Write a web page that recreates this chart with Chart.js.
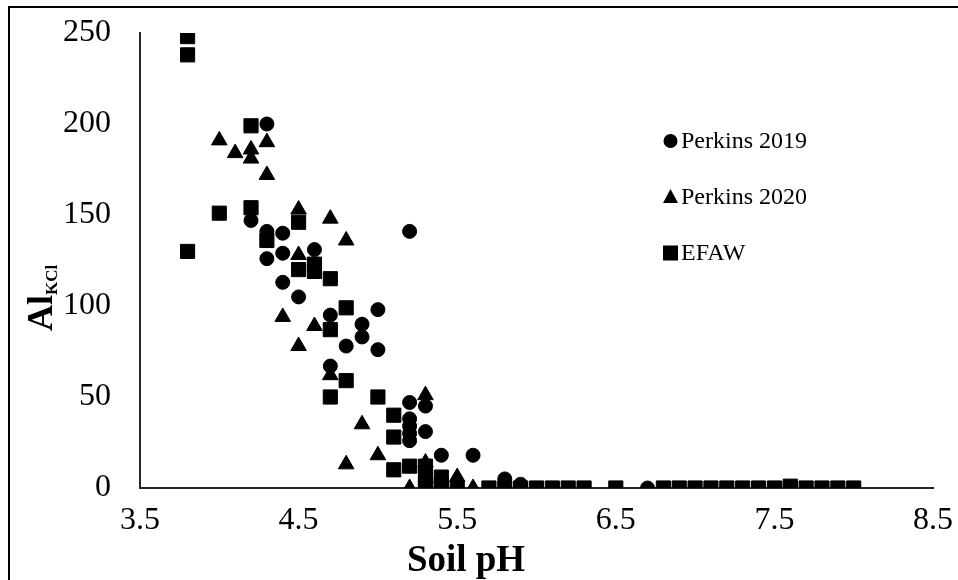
<!DOCTYPE html>
<html>
<head>
<meta charset="utf-8">
<style>
  html, body { margin: 0; padding: 0; background: #ffffff; }
  #wrap { width: 958px; height: 580px; position: relative; }
  canvas { display: block; }
</style>
<script src="https://cdn.jsdelivr.net/npm/chart.js@4/dist/chart.umd.min.js"></script>
</head>
<body>
<div id="wrap"><canvas id="c" width="958" height="580"></canvas></div>
<script>
// Axis tick values
const xTicks = [3.5, 4.5, 5.5, 6.5, 7.5, 8.5];
const yTicks = [0, 50, 100, 150, 200, 250];

// Series names
const seriesNames = ['Perkins 2019', 'Perkins 2020', 'EFAW'];

// Perkins 2019: soil pH and KCl-extractable Al
const ph2019 = [4.3, 4.2, 4.3, 4.4, 4.3, 4.4, 4.4, 4.5, 4.6, 4.7, 4.7, 4.8, 4.9, 4.9, 5.0, 5.0,
                5.2, 5.2, 5.2, 5.2, 5.2, 5.2, 5.3, 5.3, 5.4, 5.6, 5.8, 5.9, 6.7];
const al2019 = [200, 147, 141, 140, 126, 129, 113, 105, 131, 95, 67, 78, 90, 83, 98, 76,
                141, 47, 38, 34, 30, 26, 45, 31, 18, 18, 5, 2, 0];

// Perkins 2020
const ph2020 = [4.0, 4.1, 4.2, 4.2, 4.3, 4.3, 4.5, 4.7, 4.8, 4.5, 4.4, 4.6, 4.5, 4.7, 4.9,
                5.3, 5.0, 4.8, 5.3, 5.5, 5.2, 5.6];
const al2020 = [191, 184, 186, 181, 190, 172, 153, 148, 136, 128, 94, 89, 78, 62, 35,
                51, 18, 13, 14, 6, 0, 0];

// EFAW
const phEFAW = [3.8, 3.8, 3.8, 4.0, 4.2, 4.2, 4.3, 4.5, 4.5, 4.6, 4.6, 4.7, 4.7, 4.7, 4.8, 4.8,
                5.0, 5.1, 5.1, 5.1, 5.2, 5.3, 5.3, 5.3, 5.3, 5.4, 5.4, 5.4, 5.5, 5.7, 5.8, 5.9,
                6.0, 6.1, 6.2, 6.3, 6.5, 6.8, 6.9, 7.0, 7.1, 7.2, 7.3, 7.4, 7.5, 7.6, 7.6, 7.7,
                7.8, 7.9, 8.0];
const alEFAW = [248, 238, 130, 151, 199, 154, 136, 146, 120, 123, 119, 115, 87, 50, 99, 59,
                50, 40, 28, 10, 12, 12, 7, 3, 0, 6, 2, 0, 0, 0, 0, 0,
                0, 0, 0, 0, 0, 0, 0, 0, 0, 0, 0, 0, 0, 0, 1, 0,
                0, 0, 0];

const pts = (xs, ys) => xs.map((x, i) => ({ x: x, y: ys[i] }));

const FONT = '"Liberation Serif", "Times New Roman", serif';

// Outer frame, axis titles and the in-plot legend
const decorations = {
  id: 'decorations',
  beforeDraw(chart) {
    const ctx = chart.ctx;
    ctx.save();
    ctx.fillStyle = '#ffffff';
    ctx.fillRect(0, 0, chart.width, chart.height);
    ctx.strokeStyle = '#000000';
    ctx.lineWidth = 2;
    ctx.beginPath();
    ctx.moveTo(9, chart.height + 2);
    ctx.lineTo(9, 7);
    ctx.lineTo(chart.width + 2, 7);
    ctx.stroke();
    ctx.restore();
  },
  afterDraw(chart) {
    const ctx = chart.ctx;
    ctx.save();
    ctx.fillStyle = '#000000';

    // x-axis title
    ctx.font = 'bold 37px ' + FONT;
    ctx.textAlign = 'center';
    ctx.textBaseline = 'alphabetic';
    ctx.fillText('Soil pH', 466, 571);

    // y-axis title with subscript
    ctx.translate(52, 331);
    ctx.rotate(-Math.PI / 2);
    ctx.textAlign = 'left';
    ctx.font = 'bold 36px ' + FONT;
    ctx.fillText('Al', 0, 0);
    const w = ctx.measureText('Al').width;
    ctx.font = 'bold 17px ' + FONT;
    ctx.fillText('KCl', w, 5);
    ctx.restore();

    // legend
    ctx.save();
    const rows = [141, 197, 253];
    const mx = 670.5;
    ctx.font = '24px ' + FONT;
    ctx.textAlign = 'left';
    ctx.textBaseline = 'middle';
    chart.data.datasets.forEach((ds, i) => {
      const y = rows[i];
      ctx.fillStyle = '#000000';
      ctx.beginPath();
      if (ds.pointStyle === 'circle') {
        ctx.arc(mx, y, 7, 0, Math.PI * 2);
      } else if (ds.pointStyle === 'triangle') {
        ctx.moveTo(mx, y - 8);
        ctx.lineTo(mx + 7.5, y + 6);
        ctx.lineTo(mx - 7.5, y + 6);
        ctx.closePath();
      } else {
        ctx.rect(mx - 7.5, y - 7.5, 15, 15);
      }
      ctx.fill();
      ctx.fillText(ds.label, 681, y + 1);
    });
    ctx.restore();
  }
};

new Chart(document.getElementById('c'), {
  type: 'scatter',
  data: {
    datasets: [
      {
        label: seriesNames[0],
        data: pts(ph2019, al2019),
        pointStyle: 'circle',
        pointRadius: 7,
        borderWidth: 1,
        backgroundColor: '#000000',
        borderColor: '#000000',
        order: 3
      },
      {
        label: seriesNames[1],
        data: pts(ph2020, al2020),
        pointStyle: 'triangle',
        pointRadius: 9,
        borderWidth: 1,
        backgroundColor: '#000000',
        borderColor: '#000000',
        order: 2
      },
      {
        label: seriesNames[2],
        data: pts(phEFAW, alEFAW),
        pointStyle: 'rect',
        pointRadius: 10,
        borderWidth: 1,
        backgroundColor: '#000000',
        borderColor: '#000000',
        order: 1
      }
    ]
  },
  options: {
    responsive: false,
    devicePixelRatio: 1,
    animation: false,
    layout: { padding: { left: 0, right: 25, top: 33, bottom: 0 } },
    plugins: {
      legend: { display: false },
      tooltip: { enabled: false }
    },
    scales: {
      x: {
        type: 'linear',
        min: 3.5,
        max: 8.5,
        afterBuildTicks(scale) { scale.ticks = xTicks.map(v => ({ value: v })); },
        afterFit(scale) {
          scale.height = 92;
          scale.paddingLeft = 0;
          scale.paddingRight = 0;
        },
        grid: { display: false, drawTicks: false },
        border: { display: true, color: '#262626', width: 2 },
        ticks: {
          color: '#000000',
          padding: 13,
          maxRotation: 0,
          font: { family: FONT, size: 32 },
          callback: v => Number(v).toFixed(1)
        }
      },
      y: {
        type: 'linear',
        min: 0,
        max: 250,
        afterBuildTicks(scale) { scale.ticks = yTicks.map(v => ({ value: v })); },
        afterFit(scale) {
          scale.width = 140;
          scale.paddingTop = 0;
          scale.paddingBottom = 0;
        },
        grid: { display: false, drawTicks: false },
        border: { display: true, color: '#262626', width: 2 },
        ticks: {
          color: '#000000',
          padding: 29,
          font: { family: FONT, size: 32 },
          callback: v => String(v)
        }
      }
    }
  },
  plugins: [decorations]
});
</script>
</body>
</html>
